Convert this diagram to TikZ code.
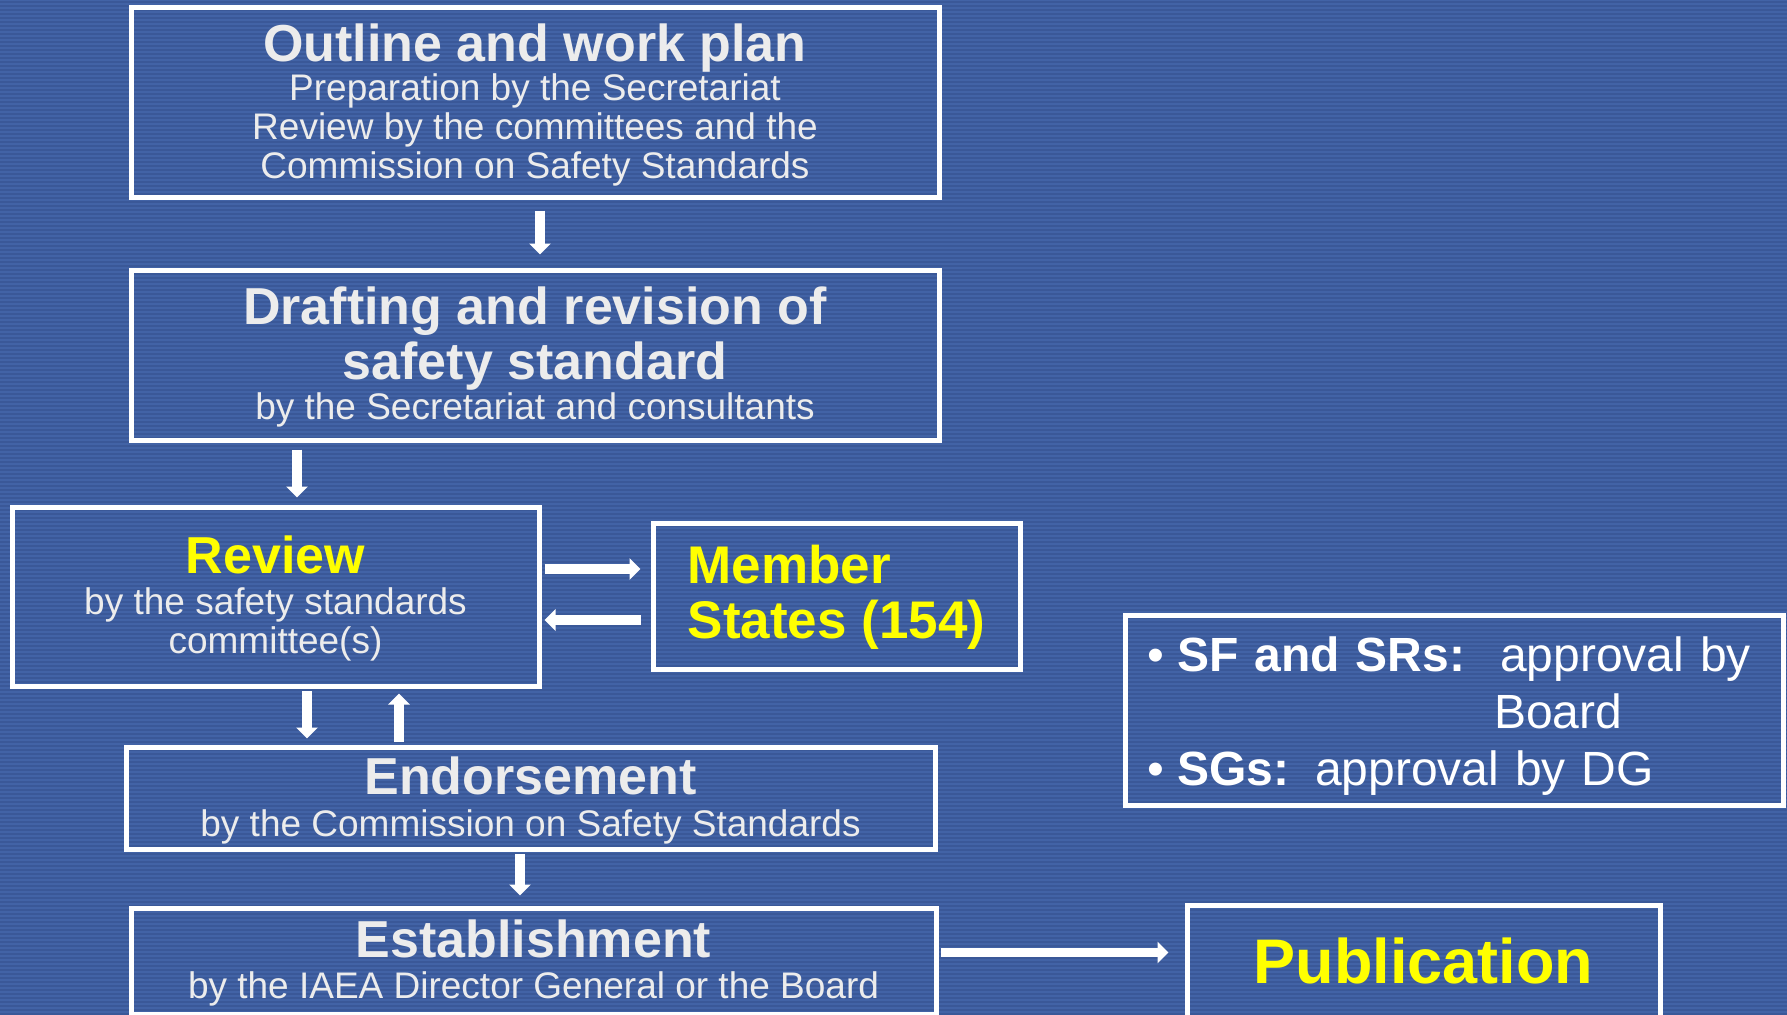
\documentclass[tikz,border=0pt]{standalone}
\usepackage{fontspec}
\setmainfont{Liberation Sans}
\usetikzlibrary{arrows.meta}

\definecolor{bgblue}{RGB}{66,99,166}
\definecolor{bgline}{RGB}{58,88,152}
\definecolor{boxtext}{RGB}{236,236,236}
\definecolor{hiyellow}{RGB}{255,255,0}

\newcommand{\hd}[1]{{\fontsize{52}{55}\selectfont\bfseries #1}}

\begin{document}
\begin{tikzpicture}[x=1pt,y=-1pt,
			stepbox/.style={draw=white,line width=5pt,inner sep=0pt,align=center,
				text=boxtext,text depth=3pt,font={\fontsize{37}{39}\selectfont}},
			flow/.style={draw=white,line width=9.5pt,-{Triangle[width=21pt,length=11pt]}}]
		\useasboundingbox (0,0) rectangle (1787,1014);
		\fill[bgblue] (0,0) rectangle (1787,1014);
		\foreach \y in {1,5,...,1013}
			\fill[bgline] (0,\y) rectangle (1787,\y+2);

		\node[stepbox,minimum width=808pt,minimum height=189pt] (outline) at (535,102.5)
			{\hd{Outline and work plan}\\ Preparation by the Secretariat\\
			 Review by the committees and the\\ Commission on Safety Standards};
		\node[stepbox,minimum width=808pt,minimum height=170pt] (drafting) at (535,355)
			{\hd{Drafting and revision of}\\[5pt] \hd{safety standard}\\[1pt]
			 by the Secretariat and consultants};
		\node[stepbox,minimum width=527pt,minimum height=179pt] (review) at (275.5,596.5)
			{\hd{\textcolor{hiyellow}{Review}}\\[2pt] by the safety standards\\ committee(s)};
		\node[stepbox,minimum width=367pt,minimum height=146pt,align=left,text=hiyellow,
			text depth=7.6pt,font={\fontsize{53}{55}\selectfont\bfseries}] (member) at (836.5,596)
			{Member\\ States (154)};
		\node[stepbox,minimum width=809pt,minimum height=102pt] (endorse) at (530.5,798)
			{\hd{Endorsement}\\[3pt] by the Commission on Safety Standards};
		\node[stepbox,minimum width=805pt,minimum height=106pt] (establish) at (533.5,961)
			{\hd{Establishment}\\[2pt] by the IAEA Director General or the Board};
		\node[stepbox,minimum width=473pt,minimum height=112pt,text=hiyellow,text depth={},
			font={\fontsize{63}{66}\selectfont\bfseries}] (publication) at (1423.5,961)
			{Publication};
		\node[stepbox,minimum width=658pt,minimum height=190pt,align=left,text=white,
			text depth={},text width=614pt,font={\fontsize{48}{57}\selectfont}] (approval) at (1454,710)
			{\rule{0pt}{47pt}\makebox[30pt][l]{\textbullet}\makebox[323pt][l]{\textbf{SF and SRs:}}approval by\\
			 \hspace*{347pt}Board\\
			 \makebox[30pt][l]{\textbullet}\makebox[138pt][l]{\textbf{SGs:}}approval by DG};

		% arrows between the steps
		\draw[flow,shorten <=11pt,shorten >=13pt] ([xshift=5pt]outline.south) -- ([xshift=5pt]drafting.north);
		\draw[flow,shorten <=7pt,shorten >=7pt] ([xshift=21.5pt]review.north |- drafting.south) -- ([xshift=21.5pt]review.north);
		\draw[flow,shorten <=3pt,shorten >=10pt] ([yshift=27.5pt]review.east) -- ([yshift=27.5pt]review.east -| member.west);
		\draw[flow,shorten <=10pt,shorten >=3pt] ([yshift=-23.5pt]review.east -| member.west) -- ([yshift=-23.5pt]review.east);
		\draw[flow,shorten <=2.5pt,shorten >=6pt] ([xshift=31.5pt]review.south) -- ([xshift=31.5pt]review.south |- endorse.north);
		\draw[flow,shorten <=3pt,shorten >=5pt] ([xshift=123.5pt]review.south |- endorse.north) -- ([xshift=123.5pt]review.south);
		\draw[flow,shorten <=2.5pt,shorten >=10pt] ([xshift=-10.5pt]endorse.south) -- ([xshift=-10.5pt]endorse.south |- establish.north);
		\draw[flow,shorten <=2.5pt,shorten >=16pt] ([yshift=8.5pt]establish.east) -- ([yshift=8.5pt]establish.east -| publication.west);
\end{tikzpicture}
\end{document}
